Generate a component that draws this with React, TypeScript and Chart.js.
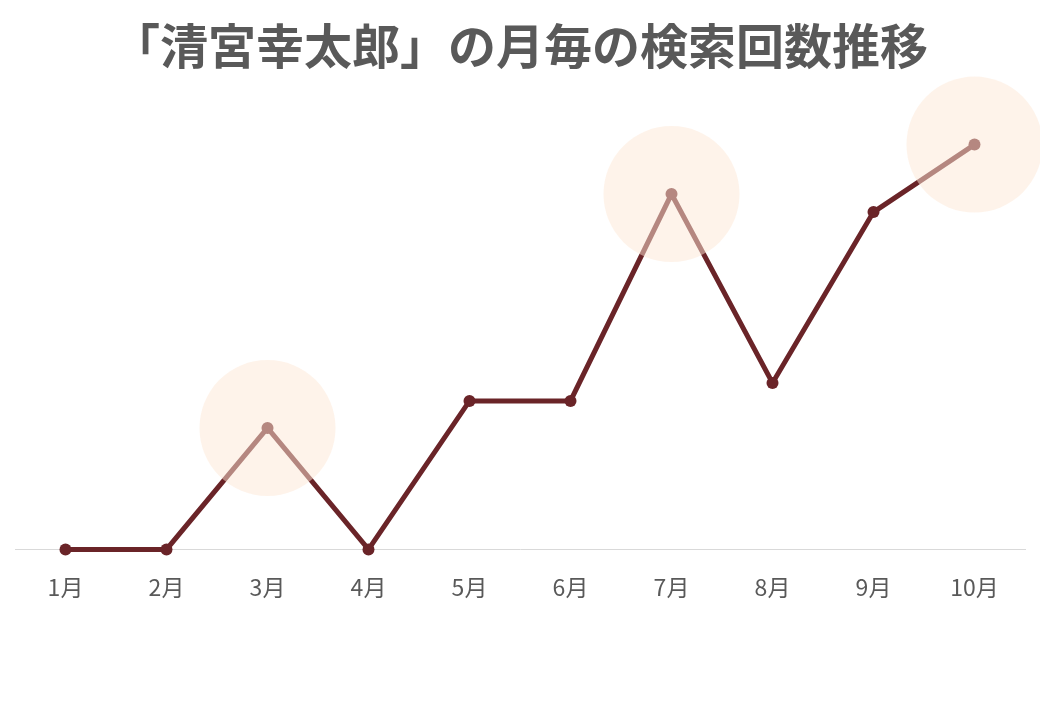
import { useEffect, useRef } from 'react'
import { Chart, registerables } from 'chart.js'

Chart.register(...registerables)

// months on the x axis
const months = ['1月', '2月', '3月', '4月', '5月', '6月', '7月', '8月', '9月', '10月']
// relative search volume per month
const searchCounts = [0, 0, 27, 0, 33, 33, 79, 37, 75, 90]
// months that get a highlight circle
const highlighted = ['3月', '7月', '10月']

const titleText = '「清宮幸太郎」の月毎の検索回数推移'

const App = () => {
  const chartRef = useRef<HTMLCanvasElement | null>(null)

  useEffect(() => {
    document.body.style.margin = '0'
    const ctx = chartRef.current?.getContext('2d')
    if (!ctx) return

    const highlightData = months.map((m, i) => (highlighted.includes(m) ? searchCounts[i] : null))

    new Chart(ctx, {
      type: 'line',
      data: {
        labels: months,
        datasets: [
          {
            label: 'highlight',
            data: highlightData,
            showLine: false,
            pointRadius: 68,
            pointHoverRadius: 68,
            pointBorderWidth: 0,
            pointBackgroundColor: 'rgba(253, 231, 214, 0.51)',
            borderColor: 'rgba(0,0,0,0)',
            clip: false,
            order: 0,
          },
          {
            label: '検索回数',
            data: searchCounts,
            borderColor: '#6a2428',
            borderWidth: 5,
            pointRadius: 6,
            pointBackgroundColor: '#6a2428',
            pointBorderWidth: 0,
            tension: 0,
            clip: false,
            order: 1,
          },
        ],
      },
      options: {
        responsive: false,
        animation: false,
        layout: {
          autoPadding: false,
          padding: { left: 15, right: 15, bottom: 95, top: 0 },
        },
        plugins: {
          legend: { display: false },
          tooltip: { enabled: false },
          title: {
            display: true,
            text: titleText,
            color: '#595959',
            font: { family: '"Noto Sans CJK JP"', size: 48, weight: 'bold' },
            padding: { top: 17, bottom: 25 },
          },
        },
        scales: {
          x: {
            offset: true,
            grid: { display: false, drawTicks: false },
            border: { display: true, color: '#d9d9d9', width: 1 },
            ticks: {
              color: '#595959',
              padding: 24,
              font: { family: '"Noto Sans CJK JP"', size: 23 },
            },
          },
          y: {
            display: false,
            min: 0,
            max: 100,
          },
        },
      },
    })

    return () => {
      Chart.getChart(ctx)?.destroy()
    }
  }, [])

  return <canvas ref={chartRef} width={1040} height={720} style={{ display: 'block' }} />
}

export default App
